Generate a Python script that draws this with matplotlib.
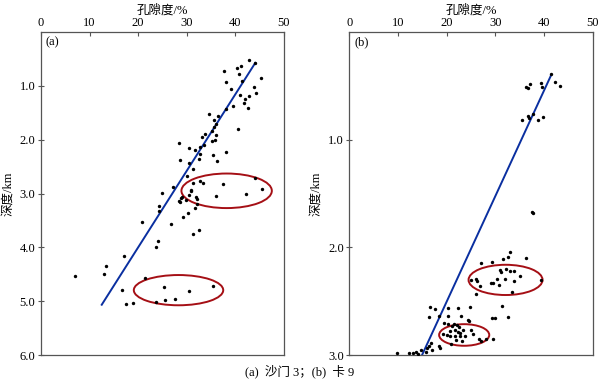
import matplotlib.pyplot as plt
from matplotlib.patches import Ellipse

plt.rcParams['font.family'] = ['Liberation Serif', 'Noto Sans CJK SC']

# (a) 沙门3 -- porosity (%) vs depth (km)
a_por = [42.8, 44.1, 37.6, 40.3, 41.1, 40.7, 45.3, 41.4, 38.1, 43.8, 44.2, 39.2,
         40.9, 42.7, 41.9, 41.7, 42.5, 39.5, 38.1, 34.6, 36.4, 35.7, 40.5, 36.1,
         35.5, 35.2, 33.8, 36.1, 33.2, 35.9, 35.2, 28.5, 30.4, 32.7, 33.5, 31.7,
         32.7, 38.1, 35.3, 28.7, 32.6, 36.2, 30.4, 31.3, 30.0, 32.7, 33.4, 37.5,
         27.1, 44.1, 45.4, 25.0, 30.8, 30.4, 31.9, 29.0, 36.1, 42.1, 32.1, 28.5,
         29.9, 32.1, 24.3, 31.7, 24.3, 30.2, 29.2, 20.8, 26.7, 32.5, 31.2, 24.1,
         23.7, 17.0, 13.4, 13.0, 7.1, 21.5, 35.3, 25.4, 16.7, 30.4, 27.5, 25.5,
         23.7, 19.0, 17.4, 31.2, 30.9, 28.9, 28.7]
a_dep = [0.52, 0.58, 0.74, 0.67, 0.63, 0.79, 0.86, 0.92, 0.94, 1.03, 1.14, 1.07,
         1.17, 1.20, 1.25, 1.32, 1.41, 1.38, 1.44, 1.53, 1.56, 1.64, 1.80, 1.72,
         1.77, 1.85, 1.90, 1.92, 1.96, 2.00, 2.03, 2.06, 2.15, 2.13, 2.10, 2.19,
         2.27, 2.24, 2.29, 2.38, 2.36, 2.39, 2.43, 2.55, 2.67, 2.76, 2.81, 2.83,
         2.88, 2.72, 2.91, 2.99, 2.96, 3.03, 3.06, 3.07, 3.04, 3.00, 3.11, 3.14,
         3.12, 3.19, 3.24, 3.27, 3.32, 3.36, 3.43, 3.52, 3.57, 3.67, 3.75, 3.88,
         3.99, 4.16, 4.34, 4.49, 4.53, 4.57, 4.71, 4.74, 4.78, 4.80, 4.95, 4.98,
         5.01, 5.03, 5.04, 2.80, 2.94, 3.08, 3.15]
a_fit_por = [12.5, 44.1]
a_fit_dep = [5.06, 0.58]
# ellipses: centre x, centre y, width, height
a_ell = [(38.2, 2.95, 18.6, 0.64), (28.3, 4.79, 18.4, 0.56)]

# (b) 卡9
b_por = [41.4, 42.3, 43.2, 36.2, 36.7, 37.1, 39.4, 39.6, 35.5, 36.7, 37.7, 38.7,
         39.7, 36.9, 37.5, 37.7, 33.0, 36.4, 31.6, 32.6, 29.3, 27.0, 31.0, 31.2,
         32.1, 33.0, 33.8, 35.1, 31.9, 30.4, 33.8, 39.3, 29.1, 29.5, 30.8, 26.0,
         24.9, 26.2, 26.9, 33.4, 26.0, 31.3, 32.7, 29.4, 30.0,
         16.6, 17.7, 20.3, 22.3, 24.8, 16.4, 18.4, 20.2, 23.0, 24.3, 24.6, 19.5,
         20.3, 21.5, 21.0, 22.1, 22.6, 21.7, 23.4, 25.0, 20.7, 22.4, 22.8, 25.4,
         20.0, 20.7, 21.8, 22.8, 23.8, 26.6, 27.1, 28.0, 29.6, 22.0, 23.2, 20.8,
         19.3, 18.4, 18.6, 16.8, 16.4, 16.0, 17.0, 15.8, 14.7, 13.8, 13.0, 12.2,
         14.2, 9.7]
b_dep = [0.39, 0.47, 0.50, 0.51, 0.52, 0.49, 0.48, 0.51, 0.82, 0.78, 0.76, 0.82,
         0.79, 0.80, 1.67, 1.68, 2.04, 2.10, 2.11, 2.09, 2.13, 2.14, 2.21, 2.23,
         2.20, 2.22, 2.22, 2.26, 2.29, 2.29, 2.31, 2.30, 2.33, 2.33, 2.35, 2.29,
         2.30, 2.31, 2.36, 2.41, 2.43, 2.54, 2.64, 2.65, 2.65,
         2.55, 2.57, 2.56, 2.56, 2.55, 2.64, 2.63, 2.63, 2.63, 2.67, 2.68, 2.70,
         2.71, 2.71, 2.73, 2.72, 2.74, 2.76, 2.76, 2.76, 2.77, 2.78, 2.79, 2.80,
         2.81, 2.82, 2.82, 2.82, 2.82, 2.85, 2.87, 2.85, 2.85, 2.86, 2.87, 2.89,
         2.80, 2.91, 2.93, 2.88, 2.91, 2.93, 2.95, 2.97, 2.95, 2.97, 2.98, 2.98,
         2.99, 2.98]
b_fit_por = [41.4, 14.9]
b_fit_dep = [0.41, 3.0]
b_ell = [(32.1, 2.30, 15.2, 0.28), (23.6, 2.81, 10.3, 0.20)]

fig = plt.figure(figsize=(6.0, 3.82), dpi=100)
ax1 = fig.add_axes([0.0683, 0.0694, 0.405, 0.8481])
ax2 = fig.add_axes([0.5822, 0.0694, 0.4056, 0.8481])

panels = [
    (ax1, a_por, a_dep, a_fit_por, a_fit_dep, a_ell, 6.0, '(a)'),
    (ax2, b_por, b_dep, b_fit_por, b_fit_dep, b_ell, 3.0, '(b)'),
]

for ax, px, dy, fx, fy, ells, ymax, tag in panels:
    ax.scatter(px, dy, s=6, color='black', linewidths=0, zorder=3)
    ax.plot(fx, fy, color='#0a2fa0', lw=1.4, zorder=2)
    for cx, cy, w, h in ells:
        ax.add_patch(Ellipse((cx, cy), w, h, fill=False, edgecolor='#a50f15', lw=1.4))
    ax.set_xlim(0, 50)
    ax.set_ylim(ymax, 0)
    ax.xaxis.set_ticks_position('top')
    ax.xaxis.set_label_position('top')
    ax.set_xticks([0, 10, 20, 30, 40, 50])
    ticks = [t for t in [1.0, 2.0, 3.0, 4.0, 5.0, 6.0] if t <= ymax]
    ax.set_yticks(ticks)
    ax.set_yticklabels(['%.1f' % t for t in ticks])
    ax.tick_params(axis='x', direction='in', length=3, labelsize=9, pad=2, color='#555555')
    ax.tick_params(axis='y', direction='inout', length=4, labelsize=9, pad=2, color='#555555')
    for s in ax.spines.values():
        s.set_color('#555555')
        s.set_linewidth(0.9)
    ax.set_xlabel('孔隙度/%', fontsize=9, labelpad=2)
    ax.set_ylabel('深度/km', fontsize=9, labelpad=4)
    ax.text(0.02, 0.985, tag, transform=ax.transAxes, fontsize=9, va='top', ha='left')

fig.text(0.5, 0.028, '(a)  沙门 3；(b)  卡 9', ha='center', va='center', fontsize=9)

fig.savefig('out.png', dpi=100)
